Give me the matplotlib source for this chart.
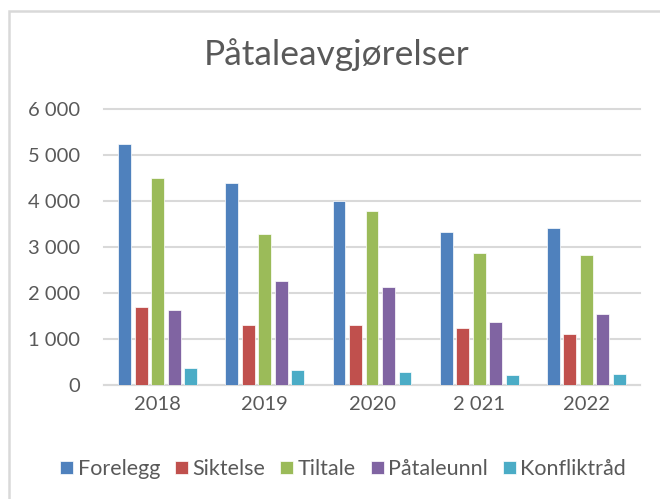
import matplotlib
matplotlib.use("Agg")
import matplotlib.pyplot as plt
from matplotlib.patches import Rectangle
import numpy as np

plt.rcParams['font.family'] = ['Lato', 'DejaVu Sans']

years = ["2018", "2019", "2020", "2 021", "2022"]
series_names = ["Forelegg", "Siktelse", "Tiltale", "Påtaleunnl", "Konfliktråd"]
forelegg = [5250, 4390, 4010, 3335, 3415]
siktelse = [1690, 1310, 1315, 1245, 1100]
tiltale = [4500, 3285, 3780, 2885, 2835]
pataleunnl = [1630, 2255, 2125, 1380, 1555]
konfliktraad = [370, 335, 285, 220, 250]
yticks = [0, 1000, 2000, 3000, 4000, 5000, 6000]
ytick_labels = ["0", "1 000", "2 000", "3 000", "4 000", "5 000", "6 000"]

colors = ["#4F81BD", "#C0504D", "#9BBB59", "#8064A2", "#4BACC6"]
data = [forelegg, siktelse, tiltale, pataleunnl, konfliktraad]
text_color = "#595959"
grid_color = "#D9D9D9"

fig = plt.figure(figsize=(6.6, 4.99), dpi=100)
# chart border
fig.patches.append(Rectangle((9/660, -0.1), 1.2, 1 - 11/499 + 0.1, transform=fig.transFigure,
                             fill=False, edgecolor=grid_color, linewidth=1.8, figure=fig))

ax = fig.add_axes([104/660, 1 - 385/499, 536/660, (385 - 109.5)/499])
x = np.arange(len(years))
step = 0.154
width = 0.12
for i, (vals, name, c) in enumerate(zip(data, series_names, colors)):
    ax.bar(x + (i - 2) * step, vals, width=width, color=c, label=name,
           edgecolor="white", linewidth=0.5, zorder=3)

ax.set_xlim(-0.5, len(years) - 0.5)
ax.set_ylim(0, 6000)
ax.set_yticks(yticks)
ax.set_yticklabels(ytick_labels)
ax.set_xticks(x)
ax.set_xticklabels(years)
ax.tick_params(axis='both', length=0, labelsize=14.5, labelcolor=text_color)
ax.tick_params(axis='y', pad=17)
ax.tick_params(axis='x', pad=8)
for s in ["top", "left", "right"]:
    ax.spines[s].set_visible(False)
ax.spines["bottom"].set_color(grid_color)
ax.spines["bottom"].set_linewidth(1.5)
ax.yaxis.grid(True, color=grid_color, linewidth=1.5, zorder=0)
ax.set_axisbelow(True)
for gl in ax.get_ygridlines():
    gl.set_clip_on(False)

fig.text(337/660, 1 - 55/499, "Påtaleavgjørelser", ha="center", va="center",
         fontsize=25.5, color=text_color)

handles, labels = ax.get_legend_handles_labels()
leg = fig.legend(handles, labels, loc="center", bbox_to_anchor=(343/660, 1 - 469/499),
                 ncol=5, frameon=False, fontsize=15.5, handlelength=0.6, handleheight=0.6,
                 handletextpad=0.2, columnspacing=0.7, labelcolor=text_color)

fig.savefig("out.png", dpi=100)
